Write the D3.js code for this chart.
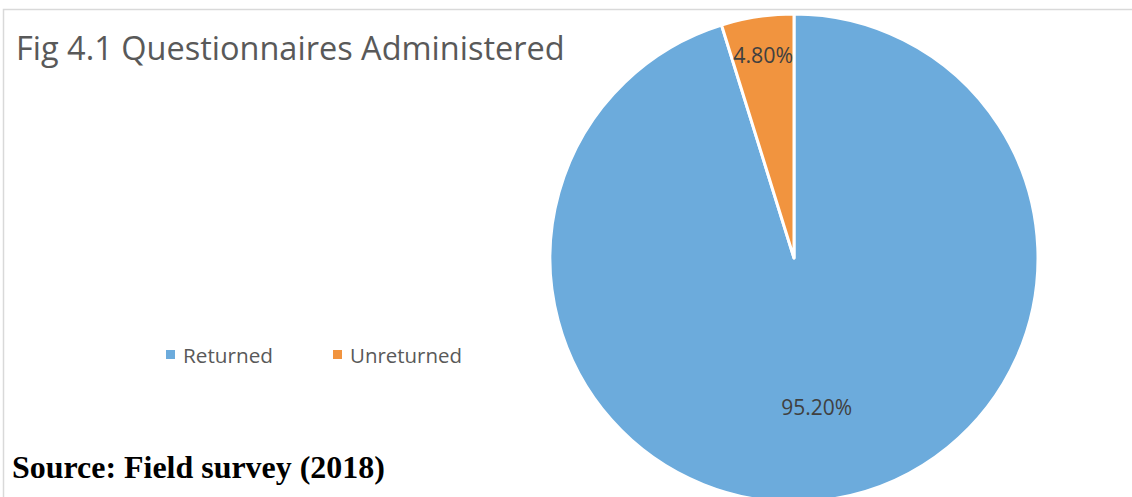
<!DOCTYPE html>
<html>
<head>
<meta charset="utf-8">
<script src="https://cdn.jsdelivr.net/npm/d3@7"></script>
<style>
  html, body { margin: 0; padding: 0; background: #fff; overflow: hidden; }
  svg { display: block; }
</style>
</head>
<body>
<svg id="chart" width="1132" height="497"></svg>
<script>
// Questionnaire return status (share of all administered)
const categories = ["Returned", "Unreturned"];
const values = [95.2, 4.8];
const valueLabels = ["95.20%", "4.80%"];
const colors = ["#6CABDC", "#F1943F"];
const title = "Fig 4.1 Questionnaires Administered";
const source = "Source: Field survey (2018)";

const W = 1132, H = 497;
const svg = d3.select("#chart");

// chart frame (light grey border, running off the right and bottom edges)
svg.append("rect")
  .attr("x", 3.5).attr("y", 9.5)
  .attr("width", W + 10).attr("height", H + 10)
  .attr("fill", "#fff")
  .attr("stroke", "#d9d9d9")
  .attr("stroke-width", 1.5);

// fit a text element to a given width
function fitWidth(sel, w) {
  const n = sel.node();
  const len = n.getComputedTextLength();
  const fs = parseFloat(sel.attr("font-size"));
  sel.attr("font-size", fs * w / len);
}

// title
const t = svg.append("text")
  .attr("x", 16).attr("y", 60)
  .attr("font-family", "'Open Sans', sans-serif")
  .attr("font-size", 32)
  .attr("fill", "#595959")
  .text(title);
fitWidth(t, 549);

// pie
const cx = 794, cy = 258, R = 244;
const pie = d3.pie().sort(null).value(d => d)(values);
const arc = d3.arc().innerRadius(0).outerRadius(R);
const g = svg.append("g").attr("transform", `translate(${cx},${cy})`);

g.selectAll("path.slice")
  .data(pie)
  .join("path")
  .attr("class", "slice")
  .attr("d", arc)
  .attr("fill", (d, i) => colors[i])
  .attr("stroke", "#fff")
  .attr("stroke-width", 3)
  .attr("stroke-linejoin", "round");

// data labels placed along each slice's bisector
const labelRadius = [0.62, 0.84];
const labelWidth = [71, 60];
g.selectAll("text.lbl")
  .data(pie)
  .join("text")
  .attr("class", "lbl")
  .attr("transform", (d, i) => {
    const r = R * labelRadius[i];
    const a = (d.startAngle + d.endAngle) / 2;
    return `translate(${Math.sin(a) * r},${-Math.cos(a) * r})`;
  })
  .attr("text-anchor", "middle")
  .attr("dy", "0.35em")
  .attr("font-family", "'Open Sans', sans-serif")
  .attr("font-size", 20)
  .attr("fill", "#404040")
  .text((d, i) => valueLabels[i])
  .each(function (d, i) { fitWidth(d3.select(this), labelWidth[i]); });

// legend
const legendItems = [
  { x: 166, textW: 90 },
  { x: 333, textW: 112 }
];
const lg = svg.append("g");
categories.forEach((c, i) => {
  lg.append("rect")
    .attr("x", legendItems[i].x).attr("y", 350)
    .attr("width", 9).attr("height", 9)
    .attr("fill", colors[i]);
  const lt = lg.append("text")
    .attr("x", legendItems[i].x + 17).attr("y", 363)
    .attr("font-family", "'Open Sans', sans-serif")
    .attr("font-size", 19)
    .attr("fill", "#595959")
    .text(c);
  fitWidth(lt, legendItems[i].textW);
});

// source note
const s = svg.append("text")
  .attr("x", 12).attr("y", 478)
  .attr("font-family", "'Liberation Serif', 'Times New Roman', serif")
  .attr("font-weight", "bold")
  .attr("font-size", 28)
  .attr("fill", "#000")
  .text(source);
fitWidth(s, 373);
</script>
</body>
</html>
